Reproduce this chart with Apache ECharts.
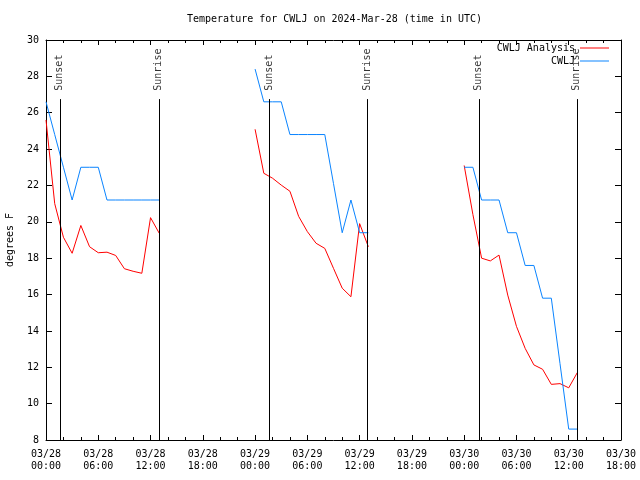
<!DOCTYPE html>
<html><head><meta charset="utf-8">
<script src="https://cdn.jsdelivr.net/npm/echarts@6/dist/echarts.min.js"></script>
<style>html,body{margin:0;padding:0;background:#fff}#c{width:640px;height:480px}</style>
</head><body><div id="c"></div>
<script>
const xTickLabels = ['03/28\n00:00','03/28\n06:00','03/28\n12:00','03/28\n18:00',
  '03/29\n00:00','03/29\n06:00','03/29\n12:00','03/29\n18:00',
  '03/30\n00:00','03/30\n06:00','03/30\n12:00','03/30\n18:00'];

const hours1 = [0,1,2,3,4,5,6,7,8,9,10,11,12,13];
const hours2 = [24,25,26,27,28,29,30,31,32,33,34,35,36,37];
const hours3 = [48,49,50,51,52,53,54,55,56,57,58,59,60,61];

const analysis1 = [25.6,21.0,19.15,18.27,19.8,18.63,18.3,18.33,18.15,17.42,17.28,17.17,20.23,19.37];
const analysis2 = [25.09,22.67,22.4,22.02,21.68,20.3,19.46,18.82,18.54,17.44,16.35,15.88,19.9,18.63];
const analysis3 = [23.1,20.4,18.0,17.85,18.17,15.97,14.25,13.04,12.13,11.89,11.06,11.1,10.87,11.72];

const obs1 = [26.6,24.8,23.0,21.2,23.0,23.0,23.0,21.2,21.2,21.2,21.2,21.2,21.2,21.2];
const obs2 = [28.4,26.6,26.6,26.6,24.8,24.8,24.8,24.8,24.8,22.1,19.4,21.2,19.4,19.4];
const obs3 = [23.0,23.0,21.2,21.2,21.2,19.4,19.4,17.6,17.6,15.8,15.8,12.2,8.6,8.6];

const sunsetHours = [1.58, 25.62, 49.68];
const sunriseHours = [12.95, 36.9, 60.93];
const sunLineTop = 26.75;
const sunLabelBase = 27.1;

const FONT = '"DejaVu Sans Mono", "Liberation Mono", monospace';

function build(hoursList, valsList) {
  const out = [];
  hoursList.forEach((hs, i) => {
    hs.forEach((h, j) => out.push([h, valsList[i][j]]));
    out.push([hs[hs.length - 1], null]);
  });
  return out;
}
const analysisData = build([hours1, hours2, hours3], [analysis1, analysis2, analysis3]);
const obsData = build([hours1, hours2, hours3], [obs1, obs2, obs3]);

const sunLines = [];
const sunLabels = [];
sunsetHours.forEach(h => {
  sunLines.push([{coord: [h, 8]}, {coord: [h, sunLineTop]}]);
  sunLabels.push({value: [h, sunLabelBase], name: 'Sunset'});
});
sunriseHours.forEach(h => {
  sunLines.push([{coord: [h, 8]}, {coord: [h, sunLineTop]}]);
  sunLabels.push({value: [h, sunLabelBase], name: 'Sunrise'});
});

const chart = echarts.init(document.getElementById('c'), null, {renderer: 'canvas'});
const axisLine = {show: true, onZero: false, lineStyle: {color: '#000', width: 1}};
chart.setOption({
  animation: false,
  backgroundColor: '#fff',
  title: {
    text: 'Temperature for CWLJ on 2024-Mar-28 (time in UTC)',
    left: 187, top: 14, padding: 0,
    textStyle: {fontFamily: FONT, fontSize: 10, fontWeight: 'normal', color: '#000'}
  },
  legend: [
    {data: ['CWLJ Analysis'], right: 31, top: 43, padding: 0, icon: 'rect', itemWidth: 29, itemHeight: 1,
     align: 'right', textStyle: {fontFamily: FONT, fontSize: 10, color: '#000'}},
    {data: ['CWLJ'], right: 31, top: 56, padding: 0, icon: 'rect', itemWidth: 29, itemHeight: 1,
     align: 'right', textStyle: {fontFamily: FONT, fontSize: 10, color: '#000'}}
  ],
  grid: {left: 46, right: 19, top: 40, bottom: 40, containLabel: false, outerBoundsMode: 'none'},
  xAxis: [
    {type: 'value', min: 0, max: 66, interval: 6, position: 'bottom',
     axisLine: axisLine,
     axisTick: {show: true, inside: true, length: 5, lineStyle: {color: '#000'}},
     minorTick: {show: true, splitNumber: 3, length: 3, lineStyle: {color: '#000'}},
     splitLine: {show: false},
     axisLabel: {margin: 8, fontFamily: FONT, fontSize: 10, color: '#000', lineHeight: 12,
       formatter: v => xTickLabels[Math.round(v / 6)] || ''}},
    {type: 'value', min: 0, max: 66, interval: 6, position: 'top',
     axisLine: axisLine,
     axisTick: {show: true, inside: true, length: 5, lineStyle: {color: '#000'}},
     minorTick: {show: true, splitNumber: 3, length: 3, lineStyle: {color: '#000'}},
     splitLine: {show: false}, axisLabel: {show: false}}
  ],
  yAxis: [
    {type: 'value', min: 8, max: 30, interval: 2, position: 'left',
     name: 'degrees F', nameLocation: 'middle', nameGap: 31, nameRotate: 90,
     nameTextStyle: {fontFamily: FONT, fontSize: 10, color: '#000'},
     axisLine: axisLine,
     axisTick: {show: true, inside: true, length: 6, lineStyle: {color: '#000'}},
     splitLine: {show: false},
     axisLabel: {margin: 7, fontFamily: FONT, fontSize: 10, color: '#000'}},
    {type: 'value', min: 8, max: 30, interval: 2, position: 'right',
     axisLine: axisLine,
     axisTick: {show: true, inside: true, length: 6, lineStyle: {color: '#000'}},
     splitLine: {show: false}, axisLabel: {show: false}}
  ],
  series: [
    {name: 'CWLJ Analysis', type: 'line', data: analysisData, showSymbol: false, symbol: 'none',
     connectNulls: false, color: '#ff0000', lineStyle: {color: '#ff0000', width: 1}, z: 3},
    {name: 'CWLJ', type: 'line', data: obsData, showSymbol: false, symbol: 'none',
     connectNulls: false, color: '#0a84ff', lineStyle: {color: '#0a84ff', width: 1}, z: 4},
    {name: 'sun', type: 'line', data: [], silent: true, z: 2,
     markLine: {silent: true, symbol: ['none', 'none'], animation: false,
       lineStyle: {color: '#000', width: 1, type: 'solid'}, label: {show: false},
       data: sunLines}},
    {name: 'sunLabels', type: 'scatter', data: sunLabels, symbolSize: 0, silent: true, z: 5,
     label: {show: true, position: 'inside', rotate: 90, align: 'left', verticalAlign: 'middle',
       offset: [2, 0],
       formatter: p => p.name, fontFamily: FONT, fontSize: 10, color: '#000'}}
  ]
});
</script></body></html>
